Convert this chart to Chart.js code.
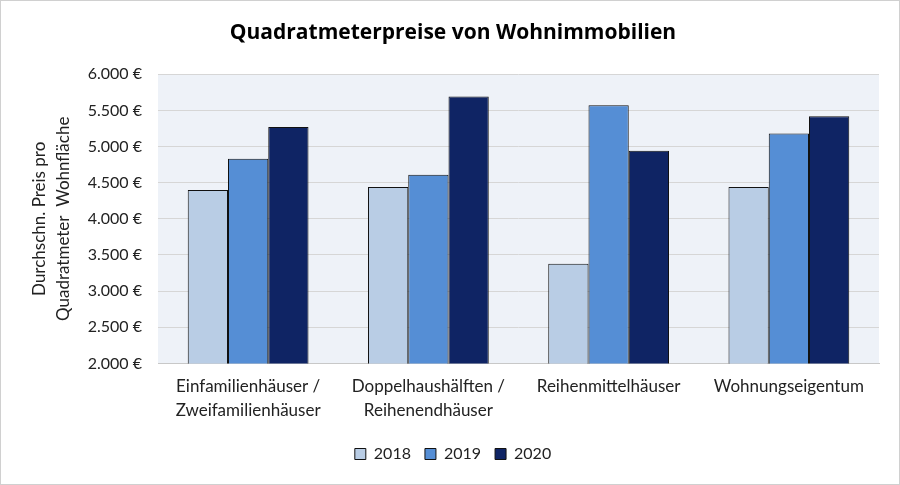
<!DOCTYPE html>
<html>
<head>
<meta charset="utf-8">
<script src="https://cdn.jsdelivr.net/npm/chart.js@4"></script>
<style>
  html, body { margin: 0; padding: 0; background: #fff; }
  #wrap { width: 898px; height: 483px; border: 1px solid #d0d0d0; }
</style>
</head>
<body>
<div id="wrap"><canvas id="myChart" width="898" height="483"></canvas></div>
<script>
// Kategorien und Werte (Euro pro m²)
var categories = [
  ['Einfamilienhäuser /', 'Zweifamilienhäuser'],
  ['Doppelhaushälften /', 'Reihenendhäuser'],
  'Reihenmittelhäuser',
  'Wohnungseigentum'
];
var years = ['2018', '2019', '2020'];
var values2018 = [4400, 4440, 3380, 4440];
var values2019 = [4830, 4610, 5570, 5180];
var values2020 = [5270, 5690, 4940, 5420];
var yTicks = [2000, 2500, 3000, 3500, 4000, 4500, 5000, 5500, 6000];

var colors = ['#b9cde5', '#558ed5', '#0f2464'];
var FONT = 'Lato, "Open Sans", sans-serif';

// Hintergrund der Zeichenfläche
var plotBg = {
  id: 'plotBg',
  beforeDraw: function (chart) {
    var a = chart.chartArea, c = chart.ctx;
    c.save();
    c.fillStyle = '#eef2f8';
    c.fillRect(a.left, a.top, a.right - a.left, a.bottom - a.top);
    c.restore();
  }
};

var ctx = document.getElementById('myChart').getContext('2d');
var myChart = new Chart(ctx, {
  type: 'bar',
  data: {
    labels: categories,
    datasets: [
      { label: years[0], data: values2018, backgroundColor: colors[0] },
      { label: years[1], data: values2019, backgroundColor: colors[1] },
      { label: years[2], data: values2020, backgroundColor: colors[2] }
    ].map(function (d) {
      d.borderColor = '#111';
      d.borderWidth = 1;
      d.categoryPercentage = 0.67;
      d.barPercentage = 1;
      return d;
    })
  },
  options: {
    responsive: false,
    animation: false,
    layout: { padding: { left: 26, right: 20, top: 0, bottom: 12 } },
    plugins: {
      title: {
        display: true,
        text: 'Quadratmeterpreise von Wohnimmobilien',
        font: { family: '"Open Sans", sans-serif', size: 21, weight: 'bold' },
        color: '#000',
        padding: { top: 19, bottom: 29 }
      },
      legend: {
        position: 'bottom',
        labels: {
          font: { family: FONT, size: 16 },
          color: '#222',
          boxWidth: 11,
          boxHeight: 11,
          padding: 14
        }
      },
      tooltip: { enabled: false }
    },
    scales: {
      x: {
        grid: { display: false },
        border: { color: '#c8c8c8' },
        afterFit: function (s) { s.height += 7; },
        ticks: {
          font: { family: FONT, size: 17, lineHeight: 1.4 },
          color: '#222',
          maxRotation: 0,
          autoSkip: false,
          padding: 3
        }
      },
      y: {
        min: 2000,
        max: 6000,
        afterBuildTicks: function (s) {
          s.ticks = yTicks.map(function (v) { return { value: v }; });
        },
        afterFit: function (s) { s.width = 131; },
        grid: { color: '#d6d6d6', drawTicks: false },
        border: { display: false },
        ticks: {
          font: { family: FONT, size: 16 },
          color: '#222',
          padding: 16,
          callback: function (v) {
            return v.toLocaleString('de-DE') + ' €';
          }
        },
        title: {
          display: true,
          text: ['Durchschn. Preis pro', 'Quadratmeter  Wohnfläche'],
          font: { family: FONT, size: 17, lineHeight: 1.45 },
          color: '#222',
          padding: { top: 0, bottom: 4 }
        }
      }
    }
  },
  plugins: [plotBg]
});
</script>
</body>
</html>
